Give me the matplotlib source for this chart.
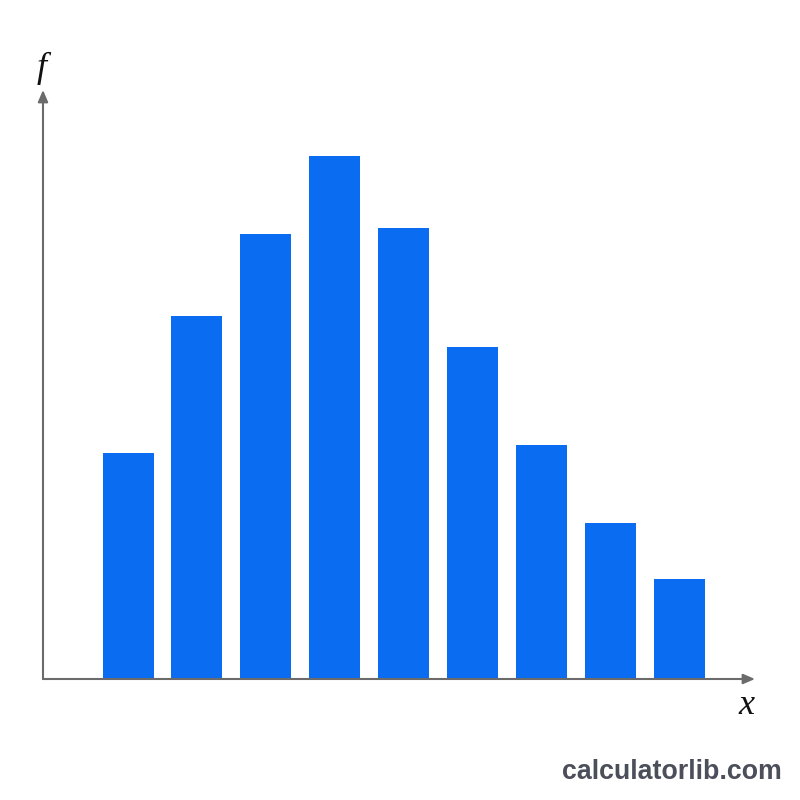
import matplotlib.pyplot as plt
import numpy as np

# frequency histogram (arbitrary units)
classes = [1, 2, 3, 4, 5, 6, 7, 8, 9]
freq = [4.52, 7.26, 8.9, 10.46, 9.02, 6.64, 4.68, 3.12, 2.0]

bar_color = '#0a6cf0'
axis_color = '#6b6b6b'

fig = plt.figure(figsize=(8, 8), dpi=100)
# axes box: x from 43px to 755px, y from 679px up to 90px
ax = fig.add_axes([43 / 800, 1 - 679 / 800, 712 / 800, 589 / 800])

ax.bar(classes, freq, width=0.74, color=bar_color, zorder=2)
ax.set_xlim(-0.234, 10.096)
ax.set_ylim(0, 11.78)

for sp in ax.spines.values():
    sp.set_visible(False)
ax.set_xticks([])
ax.set_yticks([])

# axes with arrow heads
arrow = dict(arrowstyle='-|>,head_length=0.7,head_width=0.3', color=axis_color, lw=1.5,
             shrinkA=0, shrinkB=0)
ax.annotate('', xy=(1, 0), xytext=(0, 0), xycoords='axes fraction',
            arrowprops=arrow, annotation_clip=False)
ax.annotate('', xy=(0, 1), xytext=(0, 0), xycoords='axes fraction',
            arrowprops=arrow, annotation_clip=False)

fig.text(42 / 800, 1 - 68 / 800, 'f', family='Liberation Serif', style='italic',
         fontsize=26, ha='center', va='center', color='#111111')
fig.text(746 / 800, 1 - 706 / 800, 'x', family='Liberation Serif', style='italic',
         fontsize=26, ha='center', va='center', color='#111111')

fig.text(782 / 800, 1 - 772 / 800, 'calculatorlib.com', family='Liberation Sans',
         weight='bold', fontsize=19.3, ha='right', va='center', color='#4a4f5a')

fig.savefig('out.png', dpi=100, facecolor='white')
